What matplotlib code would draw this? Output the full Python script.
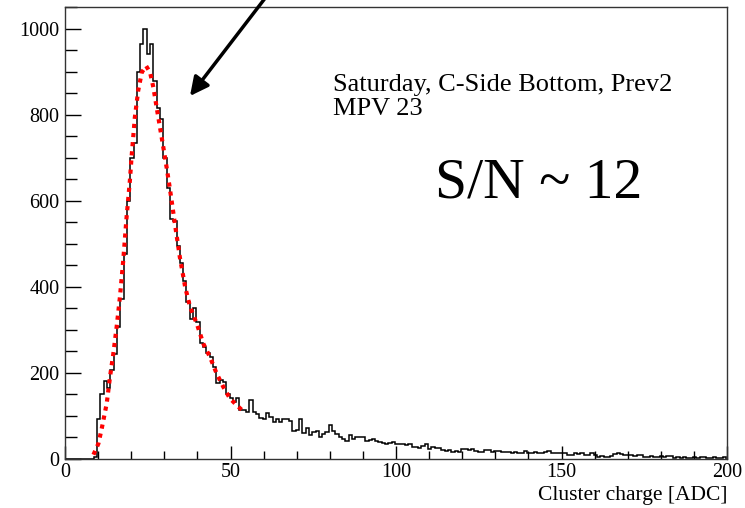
import numpy as np
import matplotlib
matplotlib.use("Agg")
import matplotlib.pyplot as plt
from matplotlib.ticker import MultipleLocator

plt.rcParams['font.family'] = ['Liberation Serif', 'DejaVu Serif']

# histogram bin contents, 1 ADC per bin (bins 0..199)
counts_low = [0, 0, 0, 0, 0, 0, 0, 0, 0, 5]                      # 0-9
counts_rise = [94, 152, 181, 166, 208, 245, 307, 371, 476, 601]   # 10-19
counts_peak = [700, 735, 900, 966, 1000, 942, 966, 880, 817, 790] # 20-29
counts_fall = [700, 630, 558, 553, 496, 456, 414, 364, 325, 350,  # 30-39
               318, 269, 261, 247, 237, 214, 176, 183, 179, 152,  # 40-49
               141, 133, 141, 114, 114, 110, 138, 110, 104, 96]   # 50-59
counts_tail1 = [94, 107, 98, 87, 94, 87, 92, 92, 89, 66,          # 60-69
                68, 93, 60, 72, 56, 62, 66, 50, 58, 62,           # 70-79
                80, 66, 58, 52, 46, 42, 55, 46, 52, 52,           # 80-89
                52, 42, 44, 46, 42, 40, 37, 36, 38, 40]           # 90-99
counts_tail2 = [35, 36, 36, 33, 35, 28, 27, 26, 30, 36,
                24, 27, 25, 26, 20, 19, 21, 17, 18, 16,
                24, 24, 20, 23, 18, 17, 16, 22, 22, 17,
                18, 19, 17, 17, 16, 15, 17, 15, 14, 18,
                15, 13, 16, 14, 14, 16, 18, 15, 13, 14]           # 100-149
counts_tail3 = [13, 13, 9, 10, 13, 12, 13, 9, 9, 14,
                10, 5, 6, 5, 4, 6, 12, 13, 11, 10,
                9, 10, 8, 9, 10, 5, 5, 6, 4, 5,
                6, 5, 7, 6, 3, 4, 3, 4, 3, 3,
                4, 3, 4, 4, 3, 3, 4, 3, 3, 4]                     # 150-199
counts = np.array(counts_low + counts_rise + counts_peak + counts_fall
                  + counts_tail1 + counts_tail2 + counts_tail3, dtype=float)
bin_lo = -0.3
edges = np.arange(len(counts) + 1) + bin_lo

# fitted curve
fit_x = [8.6, 10.1, 11.1, 12.6, 13.6, 14.6, 15.6, 16.6, 17.6, 18.6, 19.6, 20.1,
         21.1, 22.1, 23.2, 24.5, 25.7, 26.7, 27.7, 28.7, 29.7, 30.7, 31.7, 33.2,
         34.7, 36.3, 37.8, 39.8, 41.8, 43.8, 45.8, 47.8, 49.8, 51.9, 53.7]
fit_y = [10, 36, 71, 129, 191, 245, 307, 377, 462, 562, 647, 701,
         794, 856, 899, 914, 899, 864, 817, 771, 725, 678, 628, 547,
         469, 400, 353, 315, 268, 237, 199, 168, 141, 125, 112]

W, H = 745, 508
fig = plt.figure(figsize=(W / 100, H / 100), dpi=100)
ax = fig.add_axes([65 / W, 1 - 459 / H, (727 - 65) / W, (459 - 7) / H])

ax.stairs(counts, edges, color='black', lw=1.1)
ax.plot(fit_x, fit_y, color='red', lw=3, ls=(0, (1, 1.2)))

ax.set_xlim(0, 200)
ax.set_ylim(0, 1051)
ax.xaxis.set_major_locator(MultipleLocator(50))
ax.xaxis.set_minor_locator(MultipleLocator(10))
ax.yaxis.set_major_locator(MultipleLocator(200))
ax.yaxis.set_minor_locator(MultipleLocator(50))
ax.tick_params(axis='both', which='both', direction='in', top=False, right=False,
               labelsize=14.5, width=1, colors='black')
ax.tick_params(axis='y', which='major', length=11.5, pad=4)
ax.tick_params(axis='y', which='minor', length=8.5)
ax.tick_params(axis='x', which='major', length=9.5, pad=3)
ax.tick_params(axis='x', which='minor', length=5.8)
for s in ax.spines.values():
    s.set_linewidth(1)
    s.set_color('#333333')


def fx(p):
    return p / W


def fy(p):
    return 1 - p / H


fig.text(fx(727), fy(500), 'Cluster charge [ADC]', fontsize=15.5,
         ha='right', va='baseline')
fig.text(fx(333), fy(91), 'Saturday, C-Side Bottom, Prev2', fontsize=19,
         ha='left', va='baseline')
fig.text(fx(333), fy(115), 'MPV 23', fontsize=19, ha='left', va='baseline')
fig.text(fx(435), fy(197), 'S/N ~ 12', fontsize=41.5, ha='left', va='baseline')

ax.annotate('', xy=(190, H - 96), xycoords='figure pixels',
            xytext=(266, H + 3), textcoords='figure pixels',
            arrowprops=dict(arrowstyle='-|>', lw=2.5, color='black',
                            mutation_scale=28, shrinkA=0, shrinkB=0),
            annotation_clip=False)

fig.savefig('out.png', dpi=100)
